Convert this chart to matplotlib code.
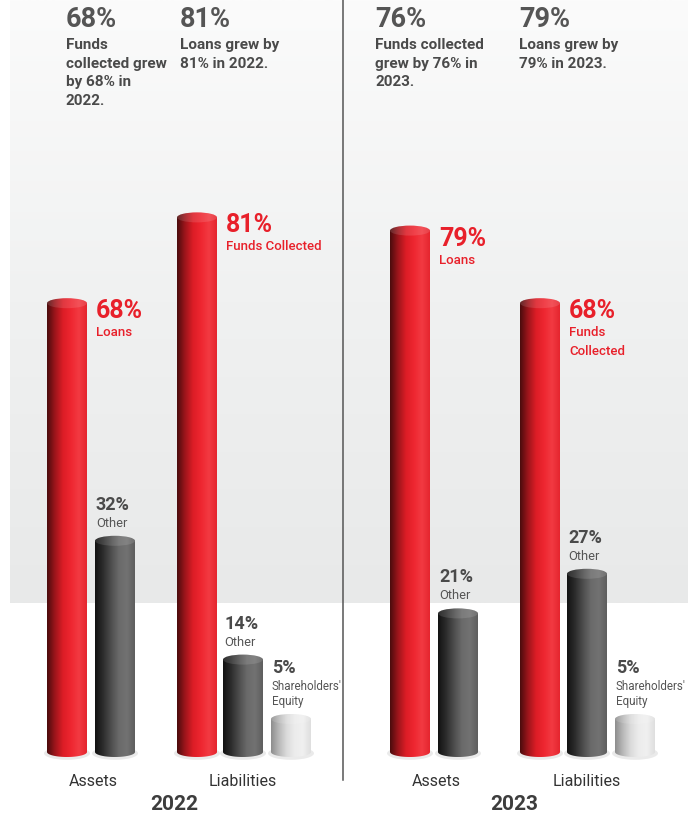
import numpy as np
import matplotlib
matplotlib.use('Agg')
import matplotlib.pyplot as plt
from matplotlib.colors import LinearSegmentedColormap
from matplotlib.path import Path
from matplotlib.patches import PathPatch, Ellipse

plt.rcParams['font.family'] = ['Roboto', 'DejaVu Sans']

# data
years = ['2022', '2023']
loans = [68, 79]
assets_other = [32, 21]
funds = [81, 68]
liab_other = [14, 27]
equity = [5, 5]
growth_funds = [68, 76]
growth_loans = [81, 79]
funds_text = [['Funds', 'collected grew', 'by 68% in', '2022.'], ['Funds collected', 'grew by 76% in', '2023.']]
loans_text = [['Loans grew by', '81% in 2022.'], ['Loans grew by', '79% in 2023.']]
funds_label = [['Funds Collected'], ['Funds', 'Collected']]

W, H = 688, 815
S = 6.6          # pixels per percent
BASE = 63        # pixels from bottom for 0 %
EH = 10 / S      # cap ellipse height in data units

RED = '#e8202a'
TXT = '#4a4a4a'

red_cm = LinearSegmentedColormap.from_list('r', ['#4a0c0d', '#9c151b', '#dc1d26', '#ee2630', '#f23a42', '#e5252e'])
dark_cm = LinearSegmentedColormap.from_list('d', ['#121212', '#2c2c2c', '#4d4d4d', '#6a6a6a', '#727272', '#5e5e5e'])
light_cm = LinearSegmentedColormap.from_list('l', ['#8d8d8d', '#b9b9b9', '#dcdcdc', '#ececec', '#f0f0f0', '#dedede'])
bg_cm = LinearSegmentedColormap.from_list('bg', ['#fbfbfb', '#f0f1f1', '#e8e9e9'])

fig = plt.figure(figsize=(W / 100, H / 100), dpi=100)

# background panel
bg = fig.add_axes([10 / W, (H - 603) / H, (W - 10) / W, 603 / H])
bg.imshow(np.linspace(0, 1, 256).reshape(-1, 1), cmap=bg_cm, aspect='auto', extent=[0, 1, 0, 1])
bg.axis('off')

ax = fig.add_axes([0, 0, 1, 1])
ax.patch.set_alpha(0)
ax.axis('off')


def cylinder(xc, value, cmap, w=40):
    xl, xr = xc - w / 2, xc + w / 2
    # soft shadow
    ax.add_patch(Ellipse((xc, -0.2), w * 1.15, EH * 1.3, fc='#d6d6d6', ec='none', alpha=0.5, zorder=2))
    t = np.linspace(np.pi, 2 * np.pi, 40)
    verts = [(xl, value)] + list(zip(xc + w / 2 * np.cos(t), EH / 2 * np.sin(t))) + [(xr, value), (xl, value)]
    body = PathPatch(Path(verts), fc='none', ec='none')
    ax.add_patch(body)
    im = ax.imshow(np.linspace(0, 1, 256).reshape(1, -1), cmap=cmap, aspect='auto',
                   extent=[xl, xr, -EH, value], zorder=3)
    im.set_clip_path(body)
    cap = Ellipse((xc, value), w, EH, fc='none', ec='none')
    ax.add_patch(cap)
    im2 = ax.imshow(np.linspace(0, 1, 256).reshape(1, -1), cmap=cmap, aspect='auto',
                    extent=[xl, xr, value - EH, value + EH], zorder=4)
    im2.set_clip_path(cap)
    ax.add_patch(Ellipse((xc, value), w, EH, fc='white', ec='none', alpha=0.12, zorder=5))


def lines_at(x, value, lines, dy0, step, **kw):
    # one annotation per line, baseline offsets in pixels from the value
    for k, s in enumerate(lines):
        ax.annotate(s, (x, value), xytext=(0, dy0 - k * step), textcoords='offset pixels',
                    va='baseline', ha='left', zorder=6, **kw)


centers = [[67, 115, 197, 243, 291], [410, 458, 540, 587, 635]]

for i in range(2):
    c = centers[i]
    cylinder(c[0], loans[i], red_cm)
    cylinder(c[1], assets_other[i], dark_cm)
    cylinder(c[2], funds[i], red_cm)
    cylinder(c[3], liab_other[i], dark_cm)
    cylinder(c[4], equity[i], light_cm)

    # red labels to the right of the tall bars
    for xc, v, name in [(c[0], loans[i], ['Loans']), (c[2], funds[i], funds_label[i])]:
        lines_at(xc + 29, v, [f'{v}%'], -15, 0, color=RED, fontsize=18, fontweight='bold')
        lines_at(xc + 29, v, name, -33, 19, color=RED, fontsize=9.5, fontweight='medium')

    # grey labels above the caps
    for xc, v, name in [(c[1], assets_other[i], ['Other']),
                        (c[3], liab_other[i], ['Other']),
                        (c[4], equity[i], ["Shareholders'", 'Equity'])]:
        n = len(name)
        fs = 9.3 if n == 1 else 8.4
        lines_at(xc - 19, v, name, 14 + 15 * (n - 1), 15, color='#555555', fontsize=fs)
        lines_at(xc - 19, v, [f'{v}%'], 31 + 15 * (n - 1), 0, color=TXT, fontsize=13, fontweight='bold')

ax.set_xlim(0, W)
ax.set_ylim(-BASE / S, (H - BASE) / S)


def ftext(x, y, s, **kw):
    fig.text(x / W, 1 - y / H, s, va='baseline', **kw)


# headline notes
for i, x0 in enumerate([66, 375]):
    ftext(x0, 27, f'{growth_funds[i]}%', fontsize=19.5, fontweight='bold', color='#555555')
    for k, s in enumerate(funds_text[i]):
        ftext(x0, 49 + 18.7 * k, s, fontsize=11, fontweight='bold', color=TXT)
for i, x0 in enumerate([180, 519]):
    ftext(x0, 27, f'{growth_loans[i]}%', fontsize=19.5, fontweight='bold', color='#555555')
    for k, s in enumerate(loans_text[i]):
        ftext(x0, 49 + 18.7 * k, s, fontsize=11, fontweight='bold', color=TXT)

# axis labels
for i in range(2):
    c = centers[i]
    ftext((c[0] + c[1]) / 2 + 2, 786, 'Assets', fontsize=11.5, color='#333333', ha='center')
    ftext(c[3], 786, 'Liabilities', fontsize=11.5, color='#333333', ha='center')
    ftext([174, 514][i], 810, years[i], fontsize=15, fontweight='bold', color='#3d3d3d', ha='center')

fig.add_artist(plt.Line2D([343 / W, 343 / W], [1 - 780 / H, 1], color='#555555', lw=1.1))

fig.savefig('out.png', dpi=100)
